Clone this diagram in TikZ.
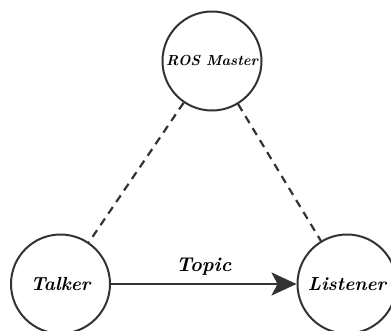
\documentclass[tikz,border=0pt]{standalone}
\usetikzlibrary{arrows.meta}
\begin{document}
\begin{tikzpicture}[x=1bp,y=-1bp,
  rosnode/.style={circle,draw=black!80,line width=2bp,minimum size=99bp,inner sep=0pt,fill=white,font=\bfseries\itshape\fontsize{19}{21}\selectfont},
  link/.style={draw=black!80,line width=2.2bp,dash pattern=on 8bp off 6bp},
  flow/.style={draw=black!80,line width=2.2bp,-{Stealth[length=25bp,width=23bp,inset=6bp,fill=black!80]}}]
  \useasboundingbox (0,0) rectangle (391,331);
  \node[rosnode,font=\bfseries\itshape\fontsize{14.6}{16}\selectfont] (master) at (212,61) {ROS Master};
  \node[rosnode] (talker) at (60.5,284) {Talker};
  \node[rosnode] (listener) at (347,284) {Listener};
  \draw[link] (master) -- (talker);
  \draw[link] (master) -- (listener);
  \draw[flow] (talker) -- node[above=4bp,font=\bfseries\itshape\fontsize{20}{22}\selectfont] {Topic} (listener);
\end{tikzpicture}
\end{document}
